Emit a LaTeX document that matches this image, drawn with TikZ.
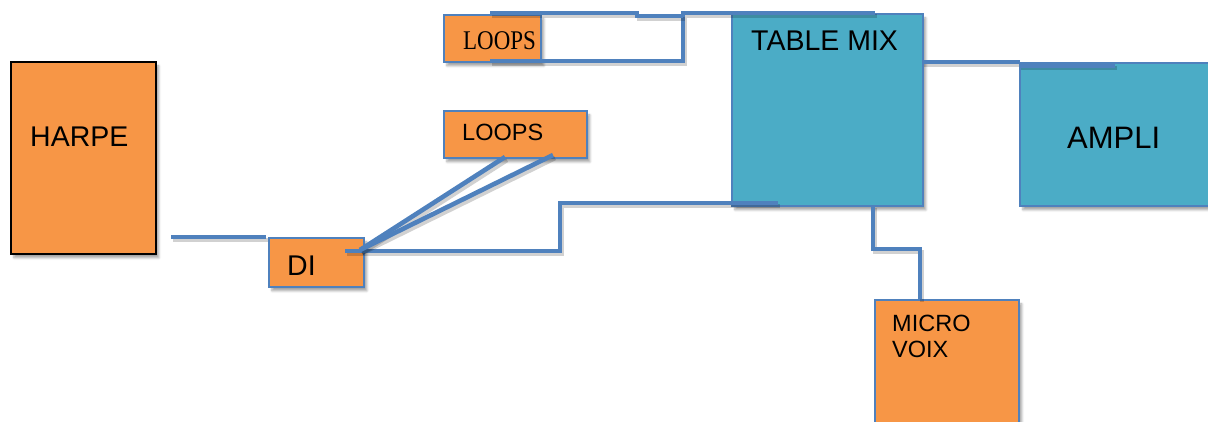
\documentclass[tikz,border=0pt]{standalone}
\usepackage{fontspec}
\setmainfont{Liberation Sans}
\newfontfamily\loopserif{Liberation Serif}
\usetikzlibrary{calc,shadows.blur}
\definecolor{orangebox}{HTML}{F79646}
\definecolor{tealbox}{HTML}{4BACC6}
\definecolor{linkblue}{HTML}{4F81BD}
\tikzset{
  box/.style={draw=linkblue, line width=1.8pt, anchor=north west, inner sep=0pt,
    blur shadow={shadow xshift=3pt, shadow yshift=-4pt, shadow blur steps=6, shadow opacity=35}},
  obox/.style={box, fill=orangebox},
  tbox/.style={box, fill=tealbox},
  lbl/.style={inner sep=0pt, anchor=west, font=\fontsize{28.5}{32}\selectfont},
  slbl/.style={inner sep=0pt, anchor=west, font=\fontsize{23.5}{26}\selectfont},
  wire/.style={draw=linkblue, line width=4.6pt,
    preaction={draw=black, opacity=0.18, line width=4.6pt, transform canvas={shift={(2pt,-3pt)}}}}
}
\begin{document}
\begin{tikzpicture}[x=1pt,y=-1pt]
\useasboundingbox (0,0) rectangle (1208,421);
% boxes
\node[obox, draw=black, minimum width=145pt, minimum height=192pt] (harpe) at (10,61) {};
\node[obox, minimum width=95pt, minimum height=49pt] (di) at (268,237) {};
\node[obox, minimum width=97pt, minimum height=47pt] (loopsA) at (443,14) {};
\node[obox, minimum width=143pt, minimum height=47pt] (loopsB) at (443,110) {};
\node[tbox, minimum width=191pt, minimum height=192pt] (mix) at (731,13) {};
\node[tbox, minimum width=200pt, minimum height=143pt] (ampli) at (1019,62) {};
\node[obox, minimum width=144pt, minimum height=140pt] (micro) at (874,299) {};
% labels
\node[lbl] (tharpe) at (30,137) {HARPE};
\node[lbl] (tdi) at (287,266) {DI};
\node[slbl] (tloopsB) at (462,132) {LOOPS};
\node[inner sep=0pt, anchor=west, font=\loopserif\fontsize{27}{30}\selectfont] (tloopsA) at (463,41) {\scalebox{0.85}[1]{LOOPS}};
\node[lbl] (tmix) at (751,41) {TABLE MIX};
\node[lbl, font=\fontsize{31}{34}\selectfont] (tampli) at (1067,137.5) {AMPLI};
\node[inner sep=0pt, anchor=north west, align=left, font=\fontsize{23.5}{26}\selectfont] (tmicro) at (892,315) {MICRO\\VOIX};
% connector coordinates
\coordinate (hOut) at (171,237);
\coordinate (diIn) at (266,237);
\coordinate (diOut) at (345,251);
\coordinate (diFan) at (360,250);
\coordinate (lbA) at (505,157);
\coordinate (lbB) at (553,155);
\coordinate (mixInB) at (778,203);
\coordinate (laTop) at (490,13);
\coordinate (laBot) at (490,61);
\coordinate (mixTopEnd) at (875,13);
\coordinate (mixR) at (922,62);
\coordinate (ampL) at (1020,62);
\coordinate (mixBot) at (873,205);
\coordinate (micTop) at (920,299);
% connectors
\path[wire] (hOut) -- (diIn);
\path[wire] (diOut) -- (560,251) -- (560,203) -- (mixInB);
\path[wire] (diFan) -- (lbA);
\path[wire] (diFan) -- (lbB);
\path[wire] (laBot) -- (683,61) -- (683,13) -- (mixTopEnd);
\path[wire] (laTop) -- (637,13) -- (637,16) -- (683,16);
\path[wire] (mixR) -- (ampL);
\path[wire, line width=5.5pt] (1019,65) -- (1115,65);
\path[wire] (mixBot) -- (873,249) -- (920,249) -- (micTop);
\end{tikzpicture}
\end{document}
